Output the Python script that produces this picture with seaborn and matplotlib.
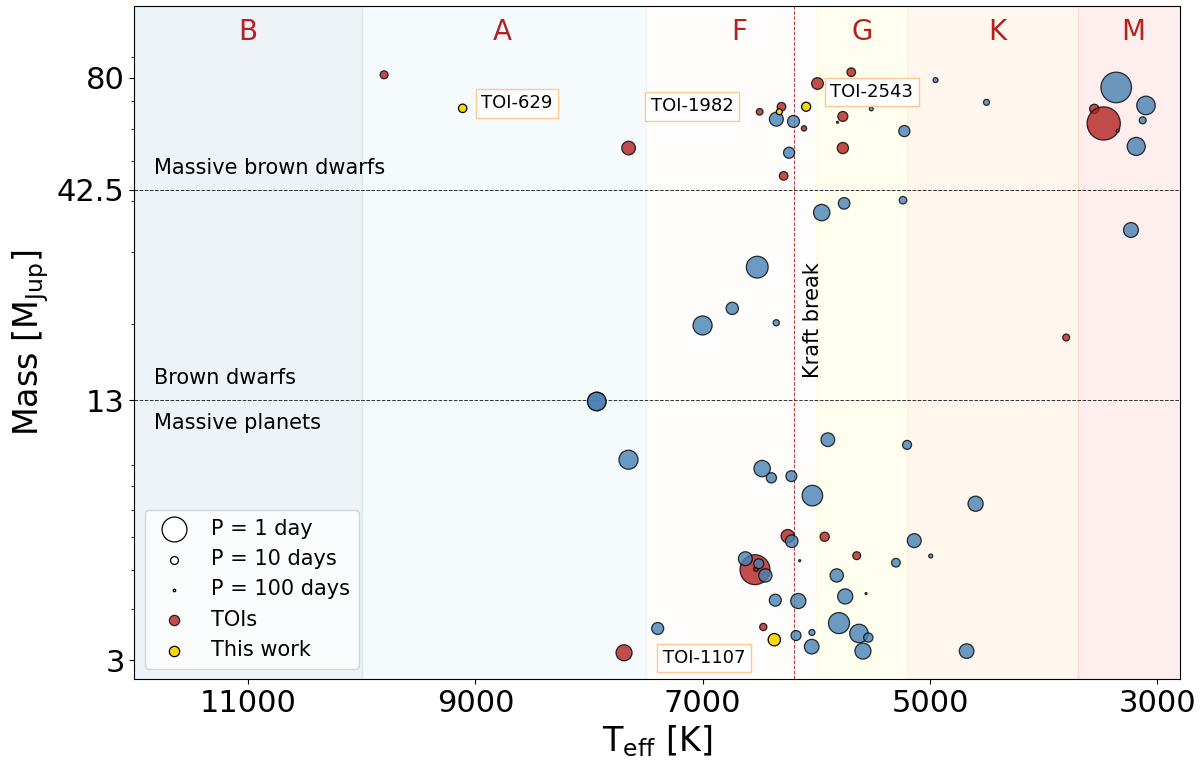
import numpy as np
import matplotlib
matplotlib.use("Agg")
import matplotlib.pyplot as plt
import matplotlib.transforms as mtransforms
from matplotlib.ticker import NullFormatter, FixedLocator
import seaborn as sns

# =====================================================
# DATA
# =====================================================

# known transiting massive companions (blue)
known_teff = [4951, 4503, 6352, 6201, 5814, 5517, 5226, 6240,
              3362, 3100, 3129, 3186, 3349, 3232,
              5953, 5756, 5238, 6520, 6740, 7001, 6353, 7932, 7932,
              5899, 5202, 7653, 6477, 6396, 6220, 6035, 4599,
              6217, 5139, 5300, 6147, 6625, 6507, 6449, 5821, 5563, 4994,
              6361, 6159, 5746, 5801, 6179, 6039, 5625, 5543, 6041, 5590,
              7396, 4678]
known_mass = [78.9, 69.6, 63.3, 62.5, 62.2, 67.1, 59.2, 52.4,
              75.7, 68.4, 62.9, 54.3, 59.3, 33.9,
              37.4, 39.4, 40.1, 27.5, 21.8, 19.8, 20.1, 12.9, 12.9,
              10.4, 10.1, 9.29, 8.84, 8.39, 8.47, 7.59, 7.25,
              5.87, 5.89, 5.20, 5.26, 5.32, 5.17, 4.84, 4.84, 4.37, 5.40,
              4.21, 4.19, 4.30, 3.70, 3.45, 3.51, 3.49, 3.41, 3.24, 3.16,
              3.59, 3.16]
known_period = [25, 17, 3.2, 4.3, 150, 40, 5.0, 5.0,
                0.66, 1.8, 12.8, 1.9, 70, 2.8,
                2.3, 4.6, 10.8, 1.3, 4.1, 1.7, 16, 1.8, 1.8,
                3.3, 7.7, 1.7, 2.3, 5.9, 5.2, 1.46, 2.7,
                3.9, 3.2, 8.3, 150, 3.2, 6.2, 3.5, 3.5, 150, 39,
                4.3, 2.7, 2.7, 1.4, 6.2, 17, 1.8, 7.2, 2.9, 2.4,
                4.3, 2.9]

# TESS objects of interest (red)
toi_teff = [9803, 7652, 5693, 5990, 6499, 6307, 6109, 5767, 5767, 6288,
            3555, 3472, 3802, 6252, 5927, 5645, 6540, 6531, 6467, 7692]
toi_mass = [81.3, 53.8, 82.5, 77.4, 66.0, 67.9, 60.1, 64.3, 53.8, 46.0,
            67.1, 61.8, 18.5, 6.04, 6.02, 5.41, 5.00, 5.02, 3.62, 3.13]
toi_period = [9.8, 3.3, 8.3, 4.5, 14, 8.3, 22, 6.2, 4.9, 8.3,
              7.2, 0.56, 13, 3.5, 7.2, 9.8, 0.69, 28, 11.7, 2.4]

# this work (yellow)
new_names = ["TOI-629", "TOI-1982", "TOI-2543", "TOI-1107"]
new_teff = [9112, 6326, 6090, 6370]
new_mass = [67.3, 66.0, 67.9, 3.37]
new_period = [8.72, 17.17, 7.54, 4.08]
label_teff = [8634, 7094, 5511, 6989]
label_mass = [69.3, 68.1, 73.8, 3.04]

# spectral types
band_names = ["B", "A", "F", "G", "K", "M"]
band_edges = [12000, 10000, 7500, 6000, 5200, 3700, 2800]
band_label_teff = [11000, 8760, 6680, 5600, 4410, 3215]
band_colors = ["steelblue", "skyblue", "wheat", "yellow", "darkorange", "red"]
band_alpha = [0.09, 0.08, 0.05, 0.06, 0.07, 0.067]

kraft_break = 6200
mass_limits = [42.5, 13]
legend_periods = [1, 10, 100]

SIZE_SCALE = 320

# =====================================================
# FIGURE
# =====================================================

fig = plt.figure(figsize=(12, 7.69), dpi=100)
ax = fig.add_axes([0.112, 0.117, 0.8714, 0.8756])

for i, name in enumerate(band_names):
    ax.axvspan(band_edges[i], band_edges[i + 1],
               color=band_colors[i], alpha=band_alpha[i], lw=1, zorder=0)

trans = mtransforms.blended_transform_factory(ax.transData, ax.transAxes)
for name, tx in zip(band_names, band_label_teff):
    ax.text(tx, 0.961, name, transform=trans, ha="center", va="center",
            fontsize=20, color="firebrick")

for m in mass_limits:
    ax.axhline(m, color="k", ls="--", lw=0.7, alpha=0.8, zorder=1)

ax.axvline(kraft_break, color="firebrick", ls="--", lw=0.7, alpha=0.9, zorder=1)
ax.text(6120, 20.4, "Kraft break", rotation=90, ha="left", va="center",
        fontsize=15)

ax.text(11830, 45.5, "Massive brown dwarfs", ha="left", va="bottom", fontsize=15)
ax.text(11830, 13.9, "Brown dwarfs", ha="left", va="bottom", fontsize=15)
ax.text(11830, 12.1, "Massive planets", ha="left", va="top", fontsize=15)

# =====================================================
# SCATTER
# =====================================================

sns.scatterplot(x=toi_teff, y=toi_mass,
                s=SIZE_SCALE / np.array(toi_period),
                color="firebrick", edgecolor="k", linewidth=0.9,
                alpha=0.8, legend=False, zorder=3, ax=ax)

sns.scatterplot(x=known_teff, y=known_mass,
                s=SIZE_SCALE / np.array(known_period),
                color="steelblue", edgecolor="k", linewidth=0.9,
                alpha=0.8, legend=False, zorder=4, ax=ax)

sns.scatterplot(x=new_teff, y=new_mass,
                s=SIZE_SCALE / np.array(new_period),
                color="gold", edgecolor="k", linewidth=0.9,
                legend=False, zorder=5, ax=ax)

for name, tx, ty in zip(new_names, label_teff, label_mass):
    ax.text(tx, ty, name, ha="center", va="center", fontsize=13, zorder=6,
            bbox=dict(boxstyle="square,pad=0.3", fc="white",
                      ec="#fdc793", lw=1))

# =====================================================
# LEGEND
# =====================================================

for p in legend_periods:
    lab = "P = 1 day" if p == 1 else f"P = {p} days"
    ax.scatter([], [], s=SIZE_SCALE / p, color="white",
               edgecolor="k", linewidth=0.9, label=lab)
ax.scatter([], [], s=55, color="firebrick", alpha=0.8,
           edgecolor="k", linewidth=0.9, label="TOIs")
ax.scatter([], [], s=55, color="gold",
           edgecolor="k", linewidth=0.9, label="This work")

ax.legend(loc="lower left", fontsize=15, scatterpoints=1)

# =====================================================
# AXES
# =====================================================

ax.set_yscale("log")
ax.set_xlim(12000, 2800)
ax.set_ylim(2.7, 120)

ax.set_xticks([11000, 9000, 7000, 5000, 3000])
ax.yaxis.set_major_locator(FixedLocator([3, 13, 42.5, 80]))
ax.set_yticklabels(["3", "13", "42.5", "80"])
ax.yaxis.set_minor_formatter(NullFormatter())
ax.tick_params(axis="both", which="major", labelsize=22)

ax.set_xlabel(r"T$_{\rm eff}$ [K]", fontsize=24)
ax.set_ylabel(r"Mass [M$_{\rm Jup}$]", fontsize=24)

fig.savefig("out.png", dpi=100)
